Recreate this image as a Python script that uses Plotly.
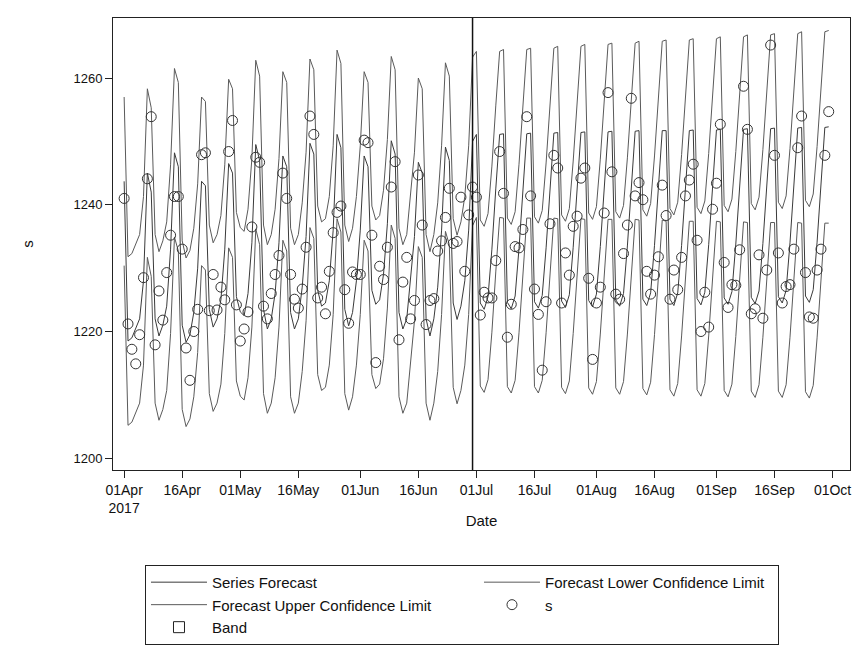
import plotly.graph_objects as go
import pandas as pd

# ---------------- data ----------------
dates = pd.date_range("2017-04-01", periods=183, freq="D")

forecast = [
    1243.7, 1218.5, 1219.0, 1220.5, 1222.0, 1228.0, 1245.0,
    1242.0, 1222.0, 1219.3, 1221.0, 1224.0, 1233.0, 1248.2,
    1246.0, 1221.0, 1218.3, 1219.5, 1223.0, 1230.0, 1243.7,
    1243.0, 1223.5, 1220.7, 1222.0, 1225.0, 1233.0, 1246.5,
    1245.0, 1225.5, 1223.1, 1222.5, 1226.0, 1234.0, 1249.5,
    1247.0, 1223.5, 1220.4, 1222.0, 1226.0, 1234.0, 1247.7,
    1246.0, 1223.0, 1220.4, 1222.0, 1227.0, 1235.0, 1249.7,
    1248.0, 1226.5, 1224.0, 1224.5, 1228.0, 1236.0, 1251.1,
    1249.0, 1223.5, 1220.9, 1223.0, 1228.0, 1236.0, 1247.7,
    1246.0, 1226.5, 1224.3, 1225.0, 1229.0, 1237.0, 1250.1,
    1248.0, 1223.0, 1220.4, 1222.0, 1228.0, 1235.0, 1246.7,
    1245.0, 1222.0, 1219.3, 1222.0, 1227.0, 1236.0, 1249.1,
    1247.0, 1224.5, 1221.9, 1224.0, 1228.0, 1236.0, 1250.0,
    1251.1, 1224.5, 1223.5, 1225.5, 1233.0, 1242.5, 1251.1,
    1251.2, 1224.6, 1223.6, 1225.6, 1233.1, 1242.6, 1251.2,
    1251.3, 1224.7, 1223.7, 1225.7, 1233.2, 1242.7, 1251.3,
    1251.4, 1224.8, 1223.8, 1225.8, 1233.3, 1242.8, 1251.4,
    1251.5, 1224.9, 1223.9, 1225.9, 1233.4, 1242.9, 1251.5,
    1251.6, 1225.0, 1224.0, 1226.0, 1233.5, 1243.0, 1251.6,
    1251.7, 1225.1, 1224.1, 1226.1, 1233.6, 1243.1, 1251.7,
    1251.7, 1225.1, 1224.1, 1226.1, 1233.6, 1243.1, 1251.7,
    1251.8, 1225.2, 1224.2, 1226.2, 1233.7, 1243.2, 1251.8,
    1251.9, 1225.3, 1224.3, 1226.3, 1233.8, 1243.3, 1251.9,
    1252.0, 1225.4, 1224.4, 1226.4, 1233.9, 1243.4, 1252.0,
    1252.1, 1225.5, 1224.5, 1226.5, 1234.0, 1243.5, 1252.1,
    1252.2, 1225.6, 1224.6, 1226.6, 1234.1, 1243.6, 1252.2,
    1252.3,
]

upper = [
    1257.0, 1231.8, 1232.3, 1233.8, 1235.3, 1241.3, 1258.3,
    1255.3, 1235.3, 1232.6, 1234.3, 1237.3, 1246.3, 1261.5,
    1259.3, 1234.3, 1231.6, 1232.8, 1236.3, 1243.3, 1257.0,
    1256.3, 1236.8, 1234.0, 1235.3, 1238.3, 1246.3, 1259.8,
    1258.3, 1238.8, 1236.4, 1235.8, 1239.3, 1247.3, 1262.8,
    1260.3, 1236.8, 1233.7, 1235.3, 1239.3, 1247.3, 1261.0,
    1259.3, 1236.3, 1233.7, 1235.3, 1240.3, 1248.3, 1263.0,
    1261.3, 1239.8, 1237.3, 1237.8, 1241.3, 1249.3, 1264.4,
    1262.3, 1236.8, 1234.2, 1236.3, 1241.3, 1249.3, 1261.0,
    1259.3, 1239.8, 1237.6, 1238.3, 1242.3, 1250.3, 1263.4,
    1261.3, 1236.3, 1233.7, 1235.3, 1241.3, 1248.3, 1260.0,
    1258.3, 1235.3, 1232.6, 1235.3, 1240.3, 1249.3, 1262.4,
    1260.3, 1237.8, 1235.2, 1237.3, 1241.3, 1249.3, 1263.3,
    1264.2, 1237.6, 1236.6, 1238.6, 1246.1, 1255.6, 1264.2,
    1264.5, 1237.9, 1236.9, 1238.9, 1246.4, 1255.9, 1264.5,
    1264.7, 1238.1, 1237.1, 1239.1, 1246.6, 1256.1, 1264.7,
    1265.0, 1238.4, 1237.4, 1239.4, 1246.9, 1256.4, 1265.0,
    1265.3, 1238.7, 1237.7, 1239.7, 1247.2, 1256.7, 1265.3,
    1265.5, 1238.9, 1237.9, 1239.9, 1247.4, 1256.9, 1265.5,
    1265.8, 1239.2, 1238.2, 1240.2, 1247.7, 1257.2, 1265.8,
    1266.0, 1239.4, 1238.4, 1240.4, 1247.9, 1257.4, 1266.0,
    1266.2, 1239.6, 1238.6, 1240.6, 1248.1, 1257.6, 1266.2,
    1266.5, 1239.9, 1238.9, 1240.9, 1248.4, 1257.9, 1266.5,
    1266.8, 1240.2, 1239.2, 1241.2, 1248.7, 1258.2, 1266.8,
    1267.0, 1240.4, 1239.4, 1241.4, 1248.9, 1258.4, 1267.0,
    1267.3, 1240.7, 1239.7, 1241.7, 1249.2, 1258.7, 1267.3,
    1267.5,
]

lower = [
    1230.4, 1205.2, 1205.7, 1207.2, 1208.7, 1214.7, 1231.7,
    1228.7, 1208.7, 1206.0, 1207.7, 1210.7, 1219.7, 1234.9,
    1232.7, 1207.7, 1205.0, 1206.2, 1209.7, 1216.7, 1230.4,
    1229.7, 1210.2, 1207.4, 1208.7, 1211.7, 1219.7, 1233.2,
    1231.7, 1212.2, 1209.8, 1209.2, 1212.7, 1220.7, 1236.2,
    1233.7, 1210.2, 1207.1, 1208.7, 1212.7, 1220.7, 1234.4,
    1232.7, 1209.7, 1207.1, 1208.7, 1213.7, 1221.7, 1236.4,
    1234.7, 1213.2, 1210.7, 1211.2, 1214.7, 1222.7, 1237.8,
    1235.7, 1210.2, 1207.6, 1209.7, 1214.7, 1222.7, 1234.4,
    1232.7, 1213.2, 1211.0, 1211.7, 1215.7, 1223.7, 1236.8,
    1234.7, 1209.7, 1207.1, 1208.7, 1214.7, 1221.7, 1233.4,
    1231.7, 1208.7, 1206.0, 1208.7, 1213.7, 1222.7, 1235.8,
    1233.7, 1211.2, 1208.6, 1210.7, 1214.7, 1222.7, 1236.7,
    1238.0, 1211.4, 1210.4, 1212.4, 1219.9, 1229.4, 1238.0,
    1237.9, 1211.3, 1210.3, 1212.3, 1219.8, 1229.3, 1237.9,
    1237.9, 1211.3, 1210.3, 1212.3, 1219.8, 1229.3, 1237.9,
    1237.8, 1211.2, 1210.2, 1212.2, 1219.7, 1229.2, 1237.8,
    1237.7, 1211.1, 1210.1, 1212.1, 1219.6, 1229.1, 1237.7,
    1237.7, 1211.1, 1210.1, 1212.1, 1219.6, 1229.1, 1237.7,
    1237.6, 1211.0, 1210.0, 1212.0, 1219.5, 1229.0, 1237.6,
    1237.4, 1210.8, 1209.8, 1211.8, 1219.3, 1228.8, 1237.4,
    1237.4, 1210.8, 1209.8, 1211.8, 1219.3, 1228.8, 1237.4,
    1237.3, 1210.7, 1209.7, 1211.7, 1219.2, 1228.7, 1237.3,
    1237.2, 1210.6, 1209.6, 1211.6, 1219.1, 1228.6, 1237.2,
    1237.2, 1210.6, 1209.6, 1211.6, 1219.1, 1228.6, 1237.2,
    1237.1, 1210.5, 1209.5, 1211.5, 1219.0, 1228.5, 1237.1,
    1237.1,
]

observed = [
    1241.0, 1221.2, 1217.2, 1214.9, 1219.5, 1228.5, 1244.1,
    1253.9, 1217.9, 1226.4, 1221.8, 1229.3, 1235.2, 1241.3,
    1241.3, 1233.0, 1217.4, 1212.3, 1220.0, 1223.5, 1247.9,
    1248.2, 1223.3, 1229.0, 1223.4, 1227.0, 1225.0, 1248.4,
    1253.3, 1224.2, 1218.5, 1220.4, 1223.1, 1236.5, 1247.5,
    1246.7, 1224.0, 1222.0, 1226.0, 1229.0, 1232.0, 1245.0,
    1241.0, 1229.0, 1225.1, 1223.7, 1226.7, 1233.3, 1254.0,
    1251.1, 1225.3, 1227.0, 1222.8, 1229.5, 1235.6, 1238.8,
    1239.8, 1226.6, 1221.3, 1229.4, 1229.0, 1229.0, 1250.2,
    1249.8, 1235.2, 1215.1, 1230.3, 1228.2, 1233.3, 1242.8,
    1246.8, 1218.7, 1227.8, 1231.7, 1222.0, 1224.9, 1244.7,
    1236.8, 1221.1, 1224.9, 1225.2, 1232.7, 1234.3, 1238.0,
    1242.6, 1233.9, 1234.2, 1241.2, 1229.5, 1238.4, 1242.8,
    1241.2, 1222.6, 1226.2, 1225.3, 1225.3, 1231.2, 1248.4,
    1241.8, 1219.1, 1224.3, 1233.4, 1233.2, 1236.1, 1253.9,
    1241.4, 1226.7, 1222.7, 1213.9, 1224.7, 1237.0, 1247.8,
    1245.8, 1224.5, 1232.4, 1228.9, 1236.6, 1238.2, 1244.2,
    1245.8, 1228.4, 1215.6, 1224.5, 1227.0, 1238.7, 1257.7,
    1245.2, 1225.9, 1225.1, 1232.3, 1236.8, 1256.8, 1241.4,
    1243.5, 1240.8, 1229.5, 1225.9, 1228.9, 1231.8, 1243.1,
    1238.3, 1225.1, 1229.7, 1226.6, 1231.7, 1241.4, 1243.9,
    1246.4, 1234.4, 1220.0, 1226.2, 1220.7, 1239.3, 1243.4,
    1252.7, 1230.9, 1223.8, 1227.4, 1227.3, 1232.9, 1258.7,
    1251.9, 1222.8, 1223.6, 1232.1, 1222.1, 1229.7, 1265.2,
    1247.8, 1232.4, 1224.5, 1227.1, 1227.4, 1233.0, 1249.0,
    1254.0, 1229.3, 1222.3, 1222.1, 1229.7, 1233.0, 1247.8,
    1254.7,
]

tick_dates = ["2017-04-01", "2017-04-16", "2017-05-01", "2017-05-16",
              "2017-06-01", "2017-06-16", "2017-07-01", "2017-07-16",
              "2017-08-01", "2017-08-16", "2017-09-01", "2017-09-16",
              "2017-10-01"]
tick_labels = ["01Apr<br>2017", "16Apr", "01May", "16May", "01Jun", "16Jun",
               "01Jul", "16Jul", "01Aug", "16Aug", "01Sep", "16Sep", "01Oct"]
y_ticks = [1200, 1220, 1240, 1260]
forecast_start = "2017-06-30"

# ---------------- figure ----------------
FONT = "Liberation Sans, Arial, sans-serif"

fig = go.Figure()
fig.add_trace(go.Scatter(x=dates, y=forecast, mode="lines", name="Series Forecast",
                         line=dict(color="#3a3a3a", width=1)))
fig.add_trace(go.Scatter(x=dates, y=lower, mode="lines",
                         name="Forecast Lower Confidence Limit", legendwidth=228,
                         line=dict(color="#5a5a5a", width=1)))
fig.add_trace(go.Scatter(x=dates, y=upper, mode="lines",
                         name="Forecast Upper Confidence Limit",
                         line=dict(color="#5a5a5a", width=1)))
fig.add_trace(go.Scatter(x=dates, y=observed, mode="markers", name="s",
                         legendwidth=228,
                         marker=dict(symbol="circle-open", size=10, color="#333",
                                     line=dict(width=1))))
fig.add_trace(go.Scatter(x=[None], y=[None], mode="markers", name="Band",
                         marker=dict(symbol="square-open", size=11, color="#222",
                                     line=dict(width=1))))

fig.add_shape(type="line", xref="x", yref="paper", x0=forecast_start, x1=forecast_start,
              y0=0, y1=1, line=dict(color="#111", width=1.5))

# the page body has an 8px margin, so the figure is 857x638 to fill 865x646
fig.update_layout(
    width=857, height=638,
    margin=dict(l=105, r=15, t=10, b=176, autoexpand=False),
    paper_bgcolor="white", plot_bgcolor="white",
    font=dict(family=FONT, size=14, color="#111"),
    showlegend=True,
    legend=dict(orientation="h", x=0.0434, y=-0.21, xanchor="left", yanchor="top",
                bordercolor="#222", borderwidth=1, itemwidth=56,
                entrywidthmode="pixels", entrywidth=262,
                font=dict(family=FONT, size=15, color="#111"),
                traceorder="normal"),
    xaxis=dict(range=["2017-03-29 03:00", "2017-10-05 12:00"], automargin=False,
               tickmode="array", tickvals=tick_dates, ticktext=tick_labels,
               ticks="outside", ticklen=7, tickcolor="#222",
               showline=True, linecolor="#222", linewidth=1, mirror=True,
               showgrid=False, zeroline=False,
               title=dict(text="Date", font=dict(size=15), standoff=0),
               tickfont=dict(size=14)),
    yaxis=dict(range=[1198.15, 1269.47], tickmode="array", tickvals=y_ticks,
               automargin=False,
               ticks="outside", ticklen=7, tickcolor="#222",
               showline=True, linecolor="#222", linewidth=1, mirror=True,
               showgrid=False, zeroline=False,
               title=dict(text="s", font=dict(size=15), standoff=36),
               tickfont=dict(size=13)),
)

fig.write_html("out.html")
